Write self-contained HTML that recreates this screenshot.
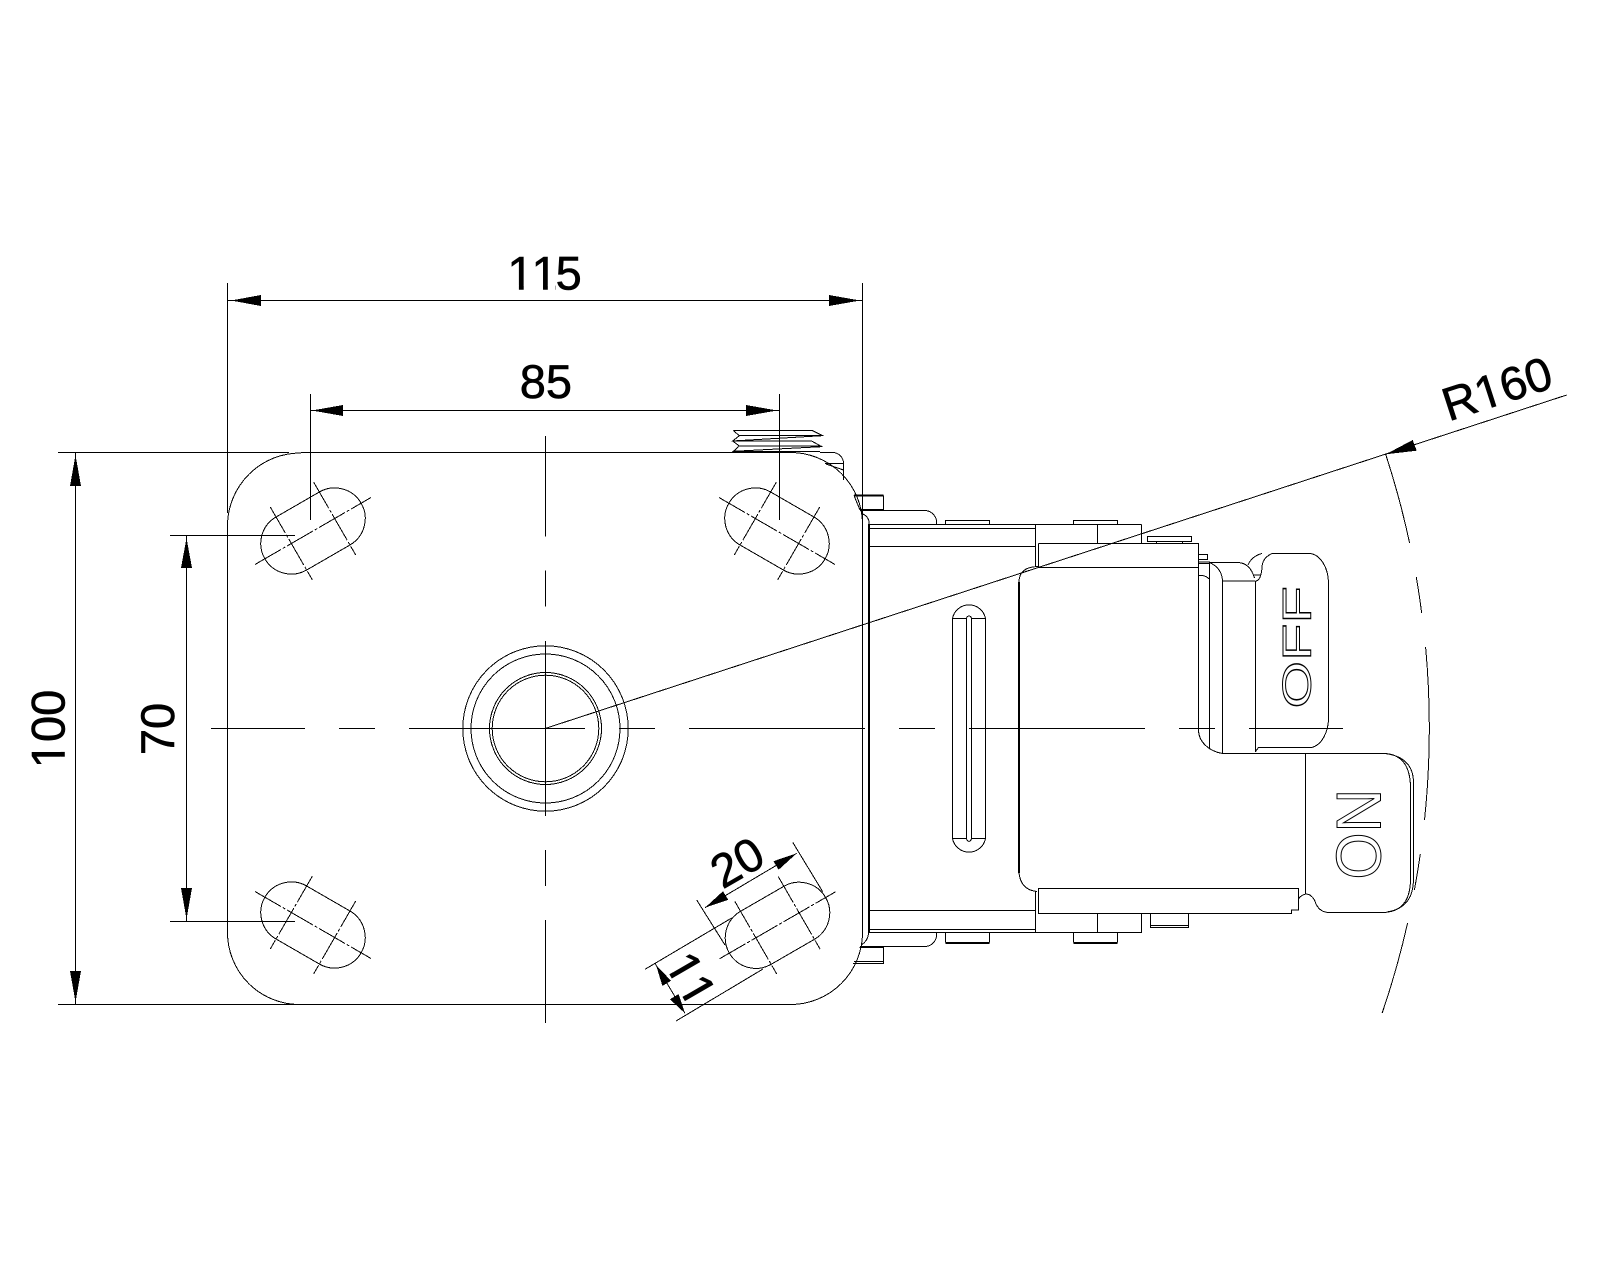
<!DOCTYPE html>
<html>
<head>
<meta charset="utf-8">
<style>
html,body{margin:0;padding:0;background:#fff;width:1600px;height:1280px;overflow:hidden}
svg{display:block}
.l{fill:none;stroke:#000;stroke-width:1}
.k{fill:none;stroke:#000;stroke-width:2}
.a{fill:#000;stroke:none}
.t{font-family:"Liberation Sans",sans-serif;font-size:47px;fill:#000;stroke:#000;stroke-width:.6;font-kerning:none;font-feature-settings:"kern" 0}
.c{fill:#fff;stroke:none}
.o{font-family:"Liberation Sans",sans-serif;fill:#fff;stroke:#000;stroke-width:1}
</style>
</head>
<body>
<svg xmlns="http://www.w3.org/2000/svg" width="1600" height="1280" viewBox="0 0 1600 1280" shape-rendering="crispEdges">
<defs>
<g id="slot">
<path class="l" d="M-25,-30.6H25A30.6,30.6 0 0 1 25,30.6H-25A30.6,30.6 0 0 1 -25,-30.6Z"/>
<path class="l" stroke-dasharray="30 2 3 2" d="M-67,0H67"/>
<path class="l" stroke-dasharray="30 2 3 2" d="M-25,-42V42M25,-42V42"/>
</g>
</defs>
<rect width="1600" height="1280" fill="#fff"/>

<!-- dimension text -->
<g shape-rendering="auto">
<g transform="translate(546.6,272.5)"><text class="t" x="-39.2" y="17">1<tspan dx="-2">1</tspan><tspan dx="-2">5</tspan></text>
<rect class="c" x="-36.7" y="12.8" width="9" height="6"/><rect class="c" x="-22.9" y="12.8" width="8.7" height="6"/>
<rect class="c" x="-12.6" y="12.8" width="9" height="6"/><rect class="c" x="1.2" y="12.8" width="7.5" height="6"/></g>
<text class="t" x="519.8" y="398">85</text>
<g transform="translate(47.5,729) rotate(-90)"><text class="t" x="-39.2" y="17">100</text>
<rect class="c" x="-36.7" y="12.8" width="9" height="6"/><rect class="c" x="-22.9" y="12.8" width="8.7" height="6"/></g>
<g transform="translate(157,729) rotate(-90)"><text class="t" x="-26.1" y="17">70</text></g>
<g transform="translate(736.7,861.7) rotate(-30)"><text class="t" x="-26.1" y="17">20</text></g>
<g transform="translate(691.7,978.3) rotate(60)"><text class="t" x="-26.1" y="17">11</text>
<rect class="c" x="-23.6" y="12.8" width="9" height="6"/><rect class="c" x="-9.8" y="12.8" width="8.7" height="6"/>
<rect class="c" x="2.5" y="12.8" width="9" height="6"/><rect class="c" x="16.3" y="12.8" width="8.7" height="6"/></g>
<g transform="translate(1496.7,388) rotate(-18)"><text class="t" x="-56.1" y="17">R160</text>
<rect class="c" x="-19.7" y="12.8" width="9" height="6"/><rect class="c" x="-5.9" y="12.8" width="8.7" height="6"/></g>
</g>

<!-- side body behind plate -->
<path class="l" d="M820,452.5H833A11,11 0 0 1 843.5,463V480M825,463.5H843.5M826,464L843.5,470"/>
<path class="k" d="M854,495.5H883.5M860,510H883.5"/>
<path class="l" d="M883.5,495.5V510M854,495.5L860,510M883.5,510.5H925A12,12 0 0 1 936.5,524"/>
<path class="l" d="M861,513.5A10,10 0 0 1 869,525"/>
<path class="k" d="M869,524V933"/>
<path class="l" d="M869,524.5H1141.5M869,528.5H1035.5M869,546.5H1035.5M1035.5,524.5V566M1097.5,524.5V543.5M1141.5,524.5V543.5"/>
<path class="l" d="M945.5,524V520.5H989.5V524M1073.5,524V520.5H1117.5V524"/>
<path class="l" d="M1147.5,536.5H1191.5V541.5H1147.5ZM1156.5,541.5V543M1182.5,541.5V543"/>
<path class="l" d="M1038.5,543.5H1198.5V730A30,24 0 0 0 1222.5,753.5H1385M1038.5,543.5V567.5H1198.5"/>
<path class="k" d="M1019,582V873"/>
<path class="l" d="M1019,582Q1019,567 1038,566.5M1019,873Q1021,890 1037,891.5"/>

<!-- OFF tab -->
<path class="l" d="M1198.5,554.5H1207.5V559.5H1198.5M1198.5,562H1210M1198.5,563.5H1209M1198.5,575.5Q1206,575 1209,579"/>
<path class="l" d="M1209.5,562.5V748M1222.5,581V753.5M1255.5,581V752M1222.5,581H1255.5M1209.5,562.5H1238Q1250,563 1254.5,578M1209.5,562.5Q1222,568 1222.5,581"/>
<path class="l" d="M1248,565Q1252,556 1262,553.5M1256,581Q1261,580 1262,568Q1262,558 1272,553.5H1310A20,30 0 0 1 1328.5,583V717A20,30 0 0 1 1311.5,747.5H1258.5L1255.5,751.5"/>
<path class="l" d="M1254,575H1261"/>
<text class="o" font-size="40" transform="translate(1310.7,708.5) rotate(-90) scale(1.53,1)">OFF</text>

<!-- ON tab -->
<path class="l" d="M1305.5,753.5V894"/>
<path class="l" d="M1385,753.5Q1410,755 1410.5,787V880Q1410,912 1383,912.5H1328.5Q1318,912 1314.5,900Q1311,894 1306,894Q1301,895 1298.5,899"/>
<path class="l" d="M1385,753.5Q1413,757 1413.5,782V880Q1413,908 1387,912"/>
<text class="o" font-size="63" transform="translate(1380.7,879.5) rotate(-90) scale(.96,1)">ON</text>

<!-- bottom of body -->
<path class="l" d="M1038.5,888.5H1298.5V910H1291.5V913.5H1038.5ZM1035.5,892V932.5M869,910.5H1035.5M869,929.5H1035.5M869,932.5H1141.5V913.5M1097.5,913.5V932.5"/>
<path class="l" d="M945.5,932.5V942.5M989.5,932.5V942.5M1073.5,932.5V942.5M1117.5,932.5V942.5"/>
<path class="k" d="M945.5,943H989.5M1073.5,943H1117.5"/>
<path class="l" d="M1150.5,913.5V927.5H1188.5V913.5M1150.5,925.5H1188.5"/>
<path class="l" d="M860,946.5H926A12,12 0 0 0 936.5,933M868.5,933Q868,941 861,945"/>
<path class="l" d="M859.5,947.5H883.5V963.5H853M883.5,961.5H854"/>

<!-- slider slot -->
<path class="l" d="M952.5,618.5A16.8,16.8 0 0 1 985.5,618.5V838.5A16.8,16.8 0 0 1 952.5,838.5ZM952.5,618.5H966.5M971.5,618.5H985.5M952.5,838.5H966.5M971.5,838.5H985.5"/>
<path class="l" d="M966.5,618.5Q967,616 969,616Q971,616 971.5,618.5V838.5Q971,841 969,841.5Q967,841 966.5,838.5Z"/>

<!-- plate -->
<path class="l" d="M301,452.5H790A72,72 0 0 1 862.5,524.5V932A72,72 0 0 1 790,1004.5H300A72,72 0 0 1 227.5,932V526A73,73 0 0 1 301,453"/>

<!-- thread -->
<g transform="translate(680,380) scale(.3333)">
<path fill="none" stroke="#000" stroke-width="3" d="M160,152H398L428,167L158,183L178,167H428M160,152L178,167M158,183H395L425,200L160,214L178,198H425M158,183L178,198M160,214H420"/>
</g>

<!-- hub circles -->
<circle class="l" cx="545.5" cy="728.5" r="82.7"/>
<circle class="l" cx="545.5" cy="728.5" r="74.5"/>
<circle class="l" cx="545.5" cy="728.5" r="56"/>
<circle class="l" cx="545.5" cy="728.5" r="53.3"/>

<!-- centre lines -->
<path class="l" d="M211,728.5H305M339,728.5H375M409,728.5H585M619,728.5H655M689,728.5H865M899,728.5H935M969,728.5H1145M1179,728.5H1215M1249,728.5H1343"/>
<path class="l" d="M545.5,436V536.7M545.5,570.7V606.7M545.5,641V816M545.5,850V886M545.5,920V1023"/>

<!-- slots -->
<use href="#slot" transform="translate(313,531) rotate(-30)"/>
<use href="#slot" transform="translate(777,531) rotate(30)"/>
<use href="#slot" transform="translate(313,925) rotate(30)"/>
<use href="#slot" transform="translate(777.5,925.3) rotate(-30)"/>

<!-- extension lines -->
<path class="l" d="M227.5,283V513M862.5,283V525M58,452.5H289M58,1004.5H300M310.5,394V520M779.5,394V520M170,535.5H295M170,921.5H295"/>
<path class="l" d="M645,969.3L731.7,918M676,1021L763,969M696.7,900L725,945M792.7,842.3L822.7,891.7"/>

<!-- dimension lines -->
<path class="l" d="M227.5,300.5H862.5M310.5,410.5H779.5M75.5,452.5V1004.5M186.5,535.5V921.5M705,907.7L796.7,853.3M655,963.3L685,1013.3M545.7,728.3L1566.7,395"/>

<!-- arrowheads -->
<polygon class="a" points="231,300.5 261,295 261,306"/>
<polygon class="a" points="860,300.5 829,295 829,306"/>
<polygon class="a" points="312,410.5 343,405 343,416"/>
<polygon class="a" points="777,410.5 746,405 746,416"/>
<polygon class="a" points="75.5,455 70,486 81,486"/>
<polygon class="a" points="75.5,1002 70,971 81,971"/>
<polygon class="a" points="186.5,538 181,568 192,568"/>
<polygon class="a" points="186.5,919 181,888 192,888"/>
<polygon class="a" points="705,907.7 728.2,899.8 723,891.2"/>
<polygon class="a" points="796.7,853.3 778.6,869.8 773.5,861.2"/>
<polygon class="a" points="656,965 671,980.7 662.4,985.9"/>
<polygon class="a" points="685,1013.3 678.6,994.1 670,999.3"/>
<polygon class="a" points="1385.7,454.3 1412.7,440 1416.7,450.7"/>

<!-- R160 arc -->
<path class="l" d="M1385.7,454.3A883.6,883.6 0 0 1 1409.6,543M1416.3,577A883.6,883.6 0 0 1 1421.7,613M1425.6,647A883.6,883.6 0 0 1 1424.5,820M1420.3,854A883.6,883.6 0 0 1 1414.4,890M1407.6,923A883.6,883.6 0 0 1 1382.2,1013"/>
</svg>
</body>
</html>
